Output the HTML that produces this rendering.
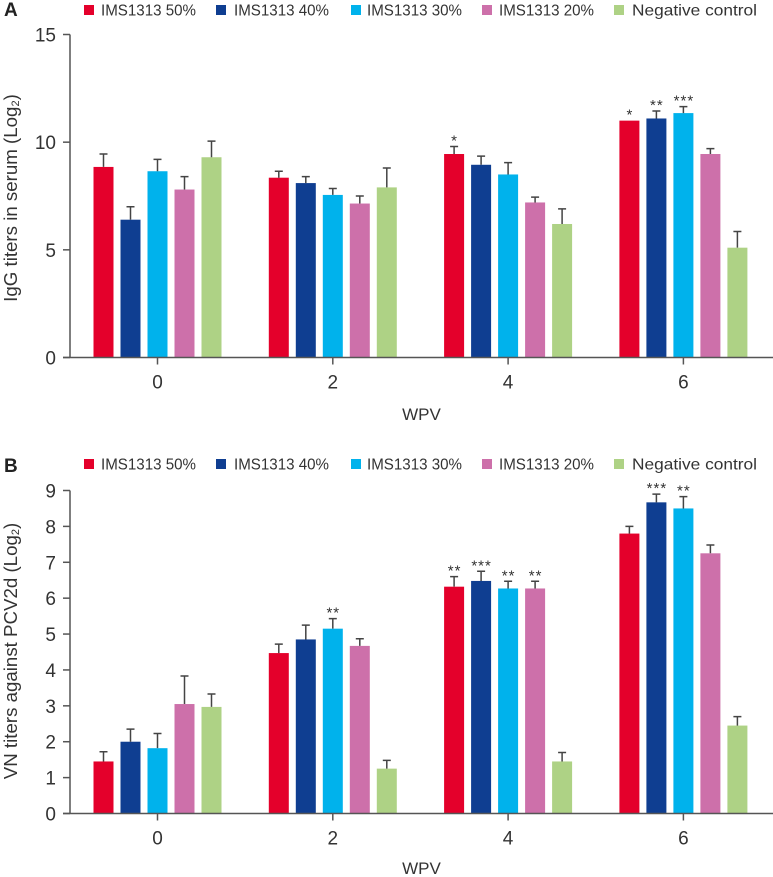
<!DOCTYPE html>
<html lang="en">
<head>
<meta charset="utf-8">
<title>IgG and VN titers by WPV</title>
<style>
html,body{margin:0;padding:0;background:#fff;width:773px;height:877px;overflow:hidden}
svg{display:block;font-family:"Liberation Sans",sans-serif}
</style>
</head>
<body>
<svg id="chart" xmlns="http://www.w3.org/2000/svg" width="773" height="877" viewBox="0 0 773 877"></svg>
<script>
const categories = ['0', '2', '4', '6'];
const seriesNames = ['IMS1313 50%', 'IMS1313 40%', 'IMS1313 30%', 'IMS1313 20%', 'Negative control'];

const igg50 = [8.85, 8.35, 9.45, 11.0];
const igg40 = [6.4, 8.1, 8.95, 11.1];
const igg30 = [8.65, 7.55, 8.5, 11.35];
const igg20 = [7.8, 7.15, 7.2, 9.45];
const iggNeg = [9.3, 7.9, 6.2, 5.1];
const igg50Err = [0.6, 0.3, 0.35, 0];
const igg40Err = [0.6, 0.3, 0.4, 0.35];
const igg30Err = [0.55, 0.3, 0.55, 0.3];
const igg20Err = [0.6, 0.35, 0.25, 0.25];
const iggNegErr = [0.75, 0.9, 0.7, 0.75];
const igg50Sig = ['', '', '*', '*'];
const igg40Sig = ['', '', '', '**'];
const igg30Sig = ['', '', '', '***'];
const igg20Sig = ['', '', '', ''];
const iggNegSig = ['', '', '', ''];
const iggTicks = [0, 5, 10, 15];

const vn50 = [1.45, 4.47, 6.32, 7.8];
const vn40 = [2.0, 4.85, 6.48, 8.67];
const vn30 = [1.82, 5.15, 6.27, 8.5];
const vn20 = [3.05, 4.67, 6.27, 7.25];
const vnNeg = [2.97, 1.25, 1.45, 2.45];
const vn50Err = [0.27, 0.25, 0.28, 0.2];
const vn40Err = [0.35, 0.4, 0.27, 0.23];
const vn30Err = [0.41, 0.28, 0.2, 0.33];
const vn20Err = [0.78, 0.2, 0.2, 0.23];
const vnNegErr = [0.36, 0.23, 0.25, 0.25];
const vn50Sig = ['', '', '**', ''];
const vn40Sig = ['', '', '***', '***'];
const vn30Sig = ['', '**', '**', '**'];
const vn20Sig = ['', '', '**', ''];
const vnNegSig = ['', '', '', ''];
const vnTicks = [0, 1, 2, 3, 4, 5, 6, 7, 8, 9];

const colors = ['#e4002b', '#0f3e91', '#00b2ec', '#cd70aa', '#aed285'];
const legendSquareX = [84, 216, 351, 482, 614];
const legendTextX = [101, 234, 367, 499, 632];
const legendTextW = [95, 95, 95, 95, 125];
const NS = 'http://www.w3.org/2000/svg';
const svg = document.getElementById('chart');

function mk(tag, attrs, parent) {
  const el = document.createElementNS(NS, tag);
  for (const k in attrs) el.setAttribute(k, attrs[k]);
  (parent || svg).appendChild(el);
  return el;
}

function drawPanel(cfg) {
  const g = mk('g', {});
  
  

  const y = v => cfg.y0 - (v / cfg.max) * (cfg.y0 - cfg.yTop);
  const xGroup = i => 93.5 + i * 175.3;
  const xBar = (i, s) => xGroup(i) + s * 27;
  const barW = 20;
  const x0 = 70, xEnd = 773;

  const letter = mk('text', {x: 4, y: cfg.letterY, 'font-size': 19, 'font-weight': 'bold', fill: '#222'}, g);
  letter.textContent = cfg.letter;
  
  

  seriesNames.forEach((name, s) => {
    const sq = mk('rect', {x: legendSquareX[s], y: cfg.legendY, width: 10, height: 10, fill: colors[s]}, g);
    
    
    const t = mk('text', {x: legendTextX[s], y: cfg.legendY + 10.5, 'font-size': 16, fill: '#333', textLength: legendTextW[s], lengthAdjust: 'spacingAndGlyphs'}, g);
    t.textContent = name;
    
    
  });

  cfg.series.forEach((vals, s) => {
    vals.forEach((v, i) => {
      const bx = xBar(i, s);
      const bar = mk('rect', {x: bx, y: y(v), width: barW, height: y(0) - y(v), fill: colors[s]}, g);
      
      
      const e = cfg.errors[s][i];
      const cx = bx + barW / 2;
      if (e > 0) {
        const err = mk('path', {
          d: 'M' + cx + ' ' + y(v) + 'V' + y(v + e) + 'M' + (cx - 4) + ' ' + y(v + e) + 'H' + (cx + 4),
          stroke: '#444', 'stroke-width': 1.5, fill: 'none'
        }, g);
        
        
      }
      const sig = cfg.sig[s][i];
      if (sig) {
        const st = mk('text', {x: cx + 0.5, y: y(v + e) - 1, 'font-size': 15, 'text-anchor': 'middle', fill: '#333', 'letter-spacing': 1}, g);
        st.textContent = sig;
        
        
      }
    });
  });

  const yAxis = mk('line', {x1: x0, x2: x0, y1: y(cfg.max), y2: y(0), stroke: '#555', 'stroke-width': 1.5}, g);
  
  
  const xAxis = mk('line', {x1: 63, x2: xEnd, y1: y(0), y2: y(0), stroke: '#555', 'stroke-width': 1.5}, g);
  
  

  cfg.ticks.forEach(t => {
    const tick = mk('line', {x1: 63, x2: x0, y1: y(t), y2: y(t), stroke: '#555', 'stroke-width': 1.5}, g);
    
    
    const lab = mk('text', {x: 56, y: y(t) + 7, 'font-size': 19, 'text-anchor': 'end', fill: '#333'}, g);
    lab.textContent = t;
    
    
  });

  categories.forEach((c, i) => {
    const cx = xBar(i, 2) + barW / 2;
    const tick = mk('line', {x1: cx, x2: cx, y1: y(0), y2: y(0) + 7, stroke: '#555', 'stroke-width': 1.5}, g);
    
    
    const lab = mk('text', {x: cx, y: y(0) + 31, 'font-size': 19, 'text-anchor': 'middle', fill: '#333'}, g);
    lab.textContent = c;
    
    
  });

  const xt = mk('text', {x: 421.5, y: cfg.xTitleY, 'font-size': 17, 'text-anchor': 'middle', fill: '#333'}, g);
  xt.textContent = 'WPV';
  
  

  const yt = mk('text', {transform: 'translate(17 ' + cfg.yTitleY + ') rotate(-90)', 'font-size': 18.7, fill: '#333', 'text-anchor': 'middle'}, g);
  yt.textContent = cfg.yTitle;
  const sub = mk('tspan', {'font-size': 11, dy: 2}, yt);
  sub.textContent = '2';
  const close = mk('tspan', {dy: -2}, yt);
  close.textContent = ')';
  
  
}

drawPanel({
  id: 'igg', letter: 'A', letterY: 16, legendY: 5,
  y0: 357.5, yTop: 34.5, max: 15, ticks: iggTicks,
  series: [igg50, igg40, igg30, igg20, iggNeg],
  errors: [igg50Err, igg40Err, igg30Err, igg20Err, iggNegErr],
  sig: [igg50Sig, igg40Sig, igg30Sig, igg20Sig, iggNegSig],
  xTitleY: 420, yTitle: 'IgG titers in serum (Log', yTitleY: 198
});

drawPanel({
  id: 'vn', letter: 'B', letterY: 472, legendY: 459,
  y0: 813.5, yTop: 490.5, max: 9, ticks: vnTicks,
  series: [vn50, vn40, vn30, vn20, vnNeg],
  errors: [vn50Err, vn40Err, vn30Err, vn20Err, vnNegErr],
  sig: [vn50Sig, vn40Sig, vn30Sig, vn20Sig, vnNegSig],
  xTitleY: 874, yTitle: 'VN titers against PCV2d (Log', yTitleY: 651
});
</script>
</body>
</html>
